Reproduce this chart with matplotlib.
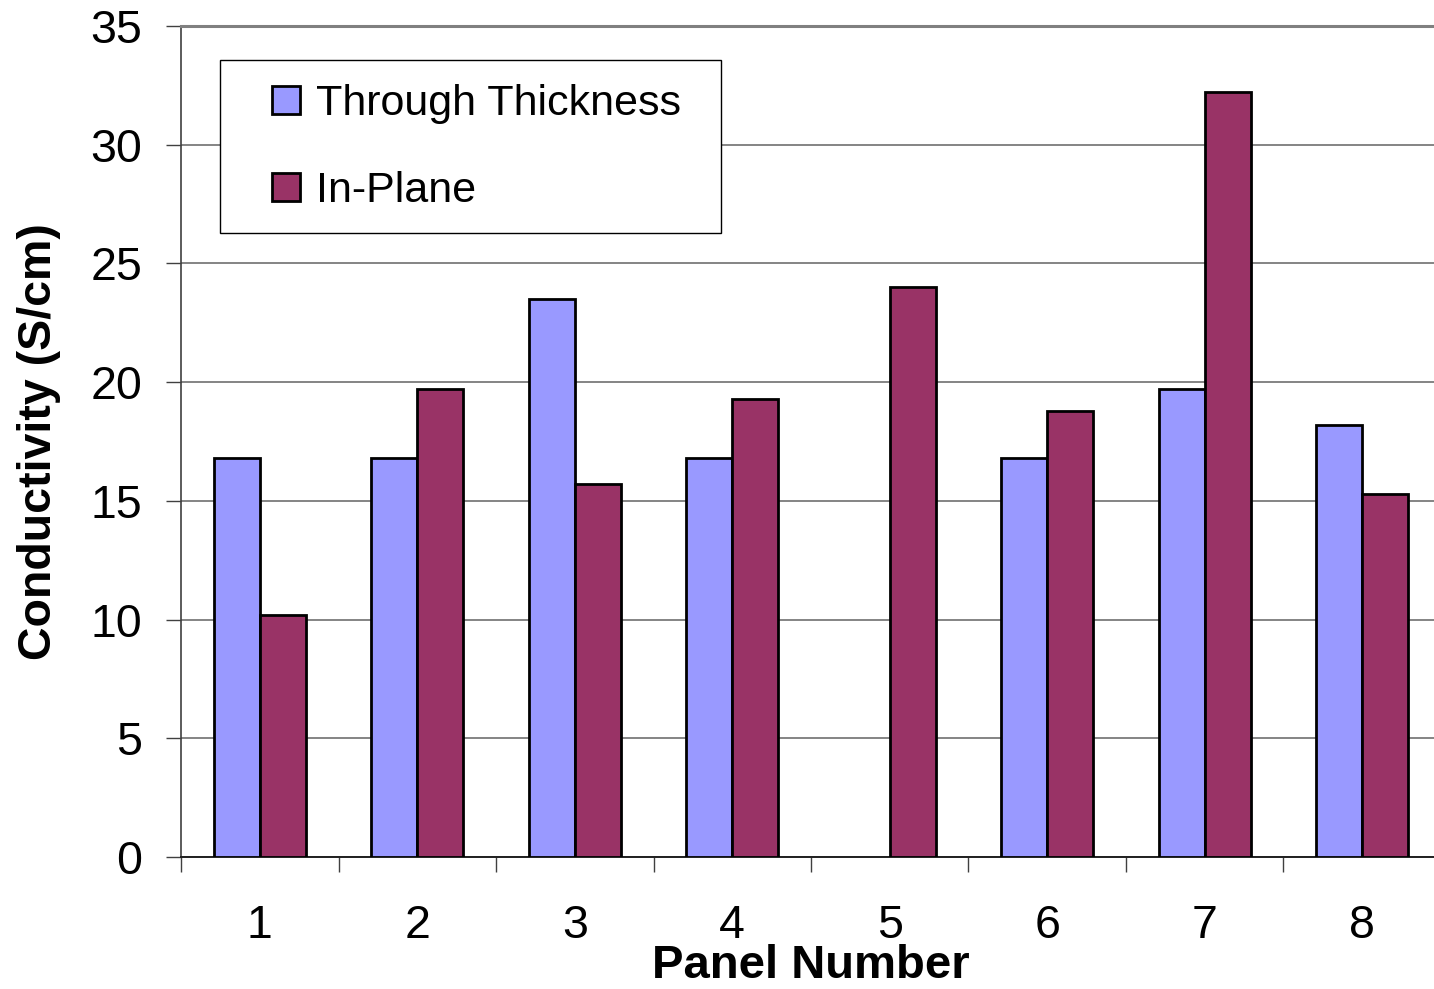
import numpy as np
import matplotlib
matplotlib.use("Agg")
import matplotlib.pyplot as plt
from matplotlib.patches import Rectangle

panels = ["1", "2", "3", "4", "5", "6", "7", "8"]
through_thickness = [16.8, 16.8, 23.5, 16.8, np.nan, 16.8, 19.7, 18.2]
in_plane = [10.2, 19.7, 15.7, 19.3, 24.0, 18.8, 32.2, 15.3]
y_ticks = [0, 5, 10, 15, 20, 25, 30, 35]

plt.rcParams['font.family'] = ['Liberation Sans', 'DejaVu Sans']

W, H = 1434, 989
fig = plt.figure(figsize=(W / 100, H / 100), dpi=100)
ax = fig.add_axes([181 / W, 1 - 857 / H, 1260 / W, (857 - 26) / H])

x = np.arange(len(panels))
bw = 0.292
ax.bar(x - bw / 2, through_thickness, bw, color="#9999FF", edgecolor="black",
       linewidth=2.0, label="Through Thickness", zorder=3)
ax.bar(x + bw / 2, in_plane, bw, color="#993366", edgecolor="black",
       linewidth=2.0, label="In-Plane", zorder=3)

ax.set_xlim(-0.5, len(panels) - 0.5)
ax.set_ylim(0, 35)
ax.set_yticks(y_ticks)
ax.set_yticklabels([str(t) for t in y_ticks], fontsize=33.5)
ax.yaxis.grid(True, color="#707070", linewidth=1.2, zorder=0)
ax.set_axisbelow(True)

ax.set_xticks(np.arange(-0.5, len(panels), 1.0))
ax.set_xticklabels([])
ax.set_xticks(x, minor=True)
ax.set_xticklabels(panels, minor=True, fontsize=33.5)
ax.tick_params(axis='x', which='major', direction='out', length=11, width=1.0, color="#404040")
ax.tick_params(axis='x', which='minor', length=0, pad=34)
ax.tick_params(axis='y', direction='out', length=11, width=1.0, pad=17, color="#404040")

ax.spines['right'].set_visible(False)
ax.spines['top'].set_color("#808080")
ax.spines['top'].set_linewidth(2.2)
ax.spines['left'].set_color("#404040")
ax.spines['left'].set_linewidth(1.2)
ax.spines['bottom'].set_color("#202020")
ax.spines['bottom'].set_linewidth(1.4)

ax.set_ylabel("Conductivity (S/cm)", fontsize=33.5, fontweight='bold', labelpad=21)
ax.set_xlabel("Panel Number", fontsize=34, fontweight='bold', labelpad=-3)

leg = fig.legend(loc='upper left', bbox_to_anchor=(272 / W, 1 - 84 / H),
                 frameon=False, fontsize=31, handlelength=0.64, handleheight=0.64,
                 handletextpad=0.38, labelspacing=1.1, borderpad=0, borderaxespad=0)
fig.patches.append(Rectangle((220 / W, 1 - 233 / H), (721 - 220) / W, (233 - 60) / H,
                             transform=fig.transFigure, facecolor="white",
                             edgecolor="black", linewidth=1.0, zorder=1))
leg.set_zorder(5)

fig.savefig("out.png", dpi=100)
